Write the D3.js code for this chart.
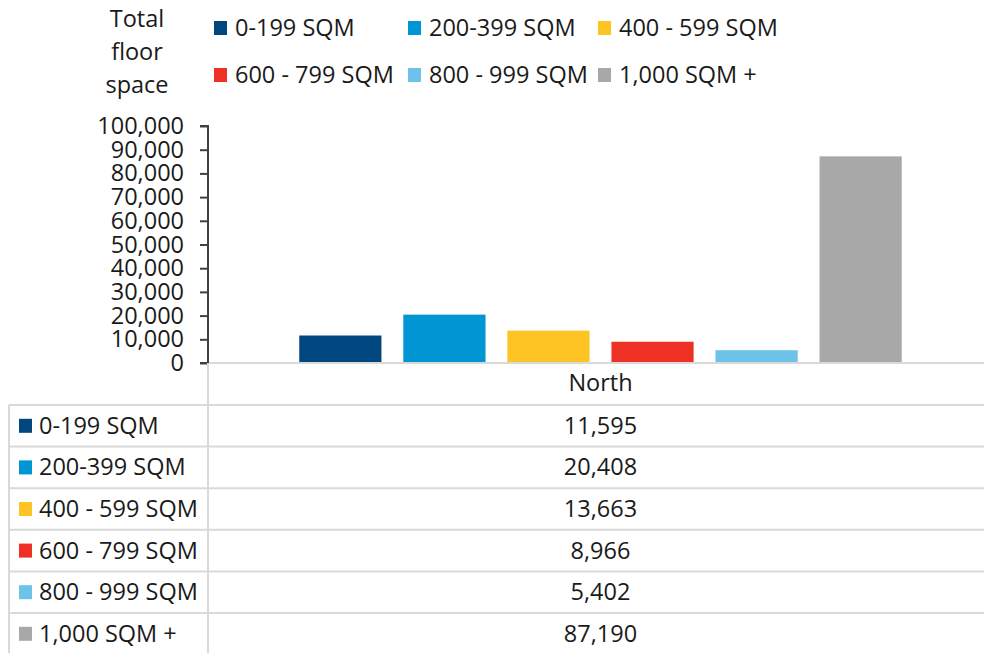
<!DOCTYPE html>
<html>
<head>
<meta charset="utf-8">
<script src="https://cdnjs.cloudflare.com/ajax/libs/d3/7.8.5/d3.min.js"></script>
<style>
  body { margin: 0; background: #fff; }
  text { font-family: "Open Sans", "Noto Sans", sans-serif; fill: #1a1a1a; }
</style>
</head>
<body>
<div id="svg-area"></div>
<script>
// Chart data
var categories = ["North"];
var seriesNames = ["0-199 SQM", "200-399 SQM", "400 - 599 SQM", "600 - 799 SQM", "800 - 999 SQM", "1,000 SQM +"];
var seriesValues = [11595, 20408, 13663, 8966, 5402, 87190];
var seriesColors = ["#00467f", "#0095d3", "#fdc424", "#ee3124", "#6cc2e9", "#a8a8a8"];
var yTicks = [0, 10000, 20000, 30000, 40000, 50000, 60000, 70000, 80000, 90000, 100000];

var svgWidth = 984;
var svgHeight = 653;
var fontSize = 23.5;
var gridColor = "#d9d9d9";

var svg = d3.select("#svg-area")
  .append("svg")
  .attr("width", svgWidth)
  .attr("height", svgHeight);

// Plot area
var plot = { left: 208, right: 993, top: 126, bottom: 363 };

var yScale = d3.scaleLinear()
  .domain([0, 100000])
  .range([plot.bottom, plot.top]);

var xOuter = d3.scaleBand()
  .domain(categories)
  .range([plot.left, plot.right])
  .padding(0.114);

var xInner = d3.scaleBand()
  .domain(seriesNames)
  .range([0, xOuter.bandwidth()])
  .paddingInner(0.21)
  .paddingOuter(0.105);

// Table layout
var tableLeft = 9;
var headerBottom = 405;
var rowHeight = 41.6;

// horizontal axis line (light)
svg.append("line")
  .attr("x1", plot.left).attr("x2", svgWidth)
  .attr("y1", plot.bottom).attr("y2", plot.bottom)
  .attr("stroke", gridColor).attr("stroke-width", 2);

// bars
var groups = svg.selectAll(".group")
  .data(categories)
  .enter()
  .append("g")
  .attr("transform", d => `translate(${xOuter(d)}, 0)`);

groups.selectAll(".bar")
  .data(seriesNames.map((s, i) => ({ name: s, value: seriesValues[i], color: seriesColors[i] })))
  .enter()
  .append("rect")
  .attr("class", "bar")
  .attr("x", d => xInner(d.name))
  .attr("y", d => yScale(d.value))
  .attr("width", xInner.bandwidth())
  .attr("height", d => plot.bottom - yScale(d.value) - 1)
  .attr("fill", d => d.color);

// y axis
var leftAxis = d3.axisLeft(yScale)
  .tickValues(yTicks)
  .tickSize(8)
  .tickPadding(16)
  .tickFormat(d3.format(","));

var yAxisG = svg.append("g")
  .attr("transform", `translate(${plot.left}, 0)`)
  .call(leftAxis);

yAxisG.select(".domain").attr("stroke", "#404040").attr("stroke-width", 2)
  .attr("d", `M-8,${plot.top}H0V${plot.bottom}H-8`);
yAxisG.selectAll(".tick line").attr("stroke", "#404040").attr("stroke-width", 2);
yAxisG.selectAll(".tick text")
  .style("font-family", "'Open Sans', 'Noto Sans', sans-serif")
  .style("font-size", fontSize + "px")
  .attr("fill", "#1a1a1a");

// y axis title
var title = svg.append("text")
  .attr("text-anchor", "middle")
  .style("font-size", fontSize + "px");
["Total", "floor", "space"].forEach(function(t, i) {
  title.append("tspan")
    .attr("x", 137)
    .attr("y", 27 + i * 33)
    .text(t);
});

// top legend
var legendPos = [
  [214, 28], [408, 28], [598, 28],
  [214, 75], [408, 75], [598, 75]
];
var legend = svg.selectAll(".legend")
  .data(seriesNames)
  .enter()
  .append("g")
  .attr("transform", (d, i) => `translate(${legendPos[i][0]}, ${legendPos[i][1]})`);

legend.append("rect")
  .attr("x", 0).attr("y", -7)
  .attr("width", 13).attr("height", 14)
  .attr("fill", (d, i) => seriesColors[i]);

legend.append("text")
  .attr("x", 21)
  .attr("y", 8)
  .style("font-size", fontSize + "px")
  .text(d => d);

// data table
var tableG = svg.append("g");

// vertical divider below axis
tableG.append("line")
  .attr("x1", plot.left).attr("x2", plot.left)
  .attr("y1", plot.bottom).attr("y2", svgHeight)
  .attr("stroke", gridColor).attr("stroke-width", 2);

// left border
tableG.append("line")
  .attr("x1", tableLeft).attr("x2", tableLeft)
  .attr("y1", headerBottom).attr("y2", svgHeight)
  .attr("stroke", gridColor).attr("stroke-width", 2);

// row lines
tableG.selectAll(".rowline")
  .data(seriesNames)
  .enter()
  .append("line")
  .attr("x1", tableLeft).attr("x2", svgWidth)
  .attr("y1", (d, i) => headerBottom + i * rowHeight)
  .attr("y2", (d, i) => headerBottom + i * rowHeight)
  .attr("stroke", gridColor).attr("stroke-width", 2);

// header category label
tableG.selectAll(".catlabel")
  .data(categories)
  .enter()
  .append("text")
  .attr("x", d => xOuter(d) + xOuter.bandwidth() / 2)
  .attr("y", 391)
  .attr("text-anchor", "middle")
  .style("font-size", fontSize + "px")
  .text(d => d);

var rows = tableG.selectAll(".row")
  .data(seriesNames)
  .enter()
  .append("g")
  .attr("transform", (d, i) => `translate(0, ${headerBottom + i * rowHeight + rowHeight / 2})`);

rows.append("rect")
  .attr("x", 19).attr("y", -7)
  .attr("width", 13).attr("height", 14)
  .attr("fill", (d, i) => seriesColors[i]);

rows.append("text")
  .attr("x", 39)
  .attr("y", 8)
  .style("font-size", fontSize + "px")
  .text(d => d);

rows.append("text")
  .attr("x", xOuter(categories[0]) + xOuter.bandwidth() / 2)
  .attr("y", 8)
  .attr("text-anchor", "middle")
  .style("font-size", fontSize + "px")
  .text((d, i) => d3.format(",")(seriesValues[i]));
</script>
</body>
</html>
